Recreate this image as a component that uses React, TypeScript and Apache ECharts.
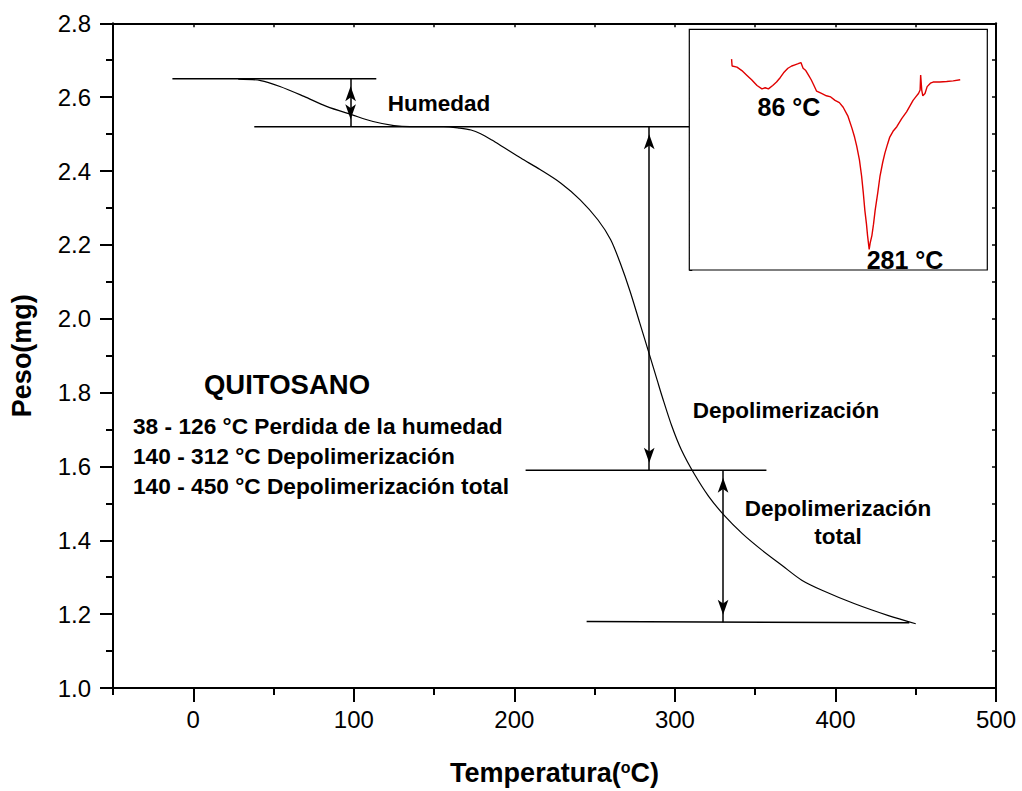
import { useEffect, useRef } from 'react';
import * as echarts from 'echarts';

// ---- Main TGA curve (Temperatura °C, Peso mg)
const tgaTemp = [28, 42, 54, 69, 83, 99, 112, 125, 135, 156, 166, 173, 179, 186, 193, 204, 216, 229, 241, 252, 260, 266, 272, 278, 284, 289, 292, 298, 304, 312, 321, 331, 342, 354, 367, 379, 392, 412, 433, 450];
const tgaWeight = [2.649, 2.645, 2.629, 2.602, 2.575, 2.552, 2.534, 2.523, 2.520, 2.520, 2.516, 2.511, 2.501, 2.484, 2.465, 2.435, 2.404, 2.367, 2.322, 2.268, 2.214, 2.150, 2.075, 1.990, 1.905, 1.833, 1.790, 1.710, 1.645, 1.580, 1.519, 1.466, 1.418, 1.374, 1.331, 1.292, 1.264, 1.228, 1.196, 1.174];

// ---- Inset DSC curve (same temperature scale, arbitrary signal)
const dscTemp = [28, 29, 38, 47, 56, 65, 75, 84, 90, 96, 104, 111, 118, 124, 132, 139, 145, 151, 156, 160, 165, 170, 175, 179, 185, 194, 203, 211, 219, 227, 234, 243, 250, 255, 259, 264, 268, 271, 274, 277, 279, 282, 284, 287, 290, 293, 298, 302, 307, 311, 316, 320, 326, 333, 342, 351, 357, 363, 368, 373, 376, 377, 379, 381, 385, 389, 395, 400, 412, 425, 437, 450];
const dscSignal = [92, 89, 88.5, 87, 85, 83, 80.5, 79, 79.5, 79, 80.5, 82, 84, 86, 88, 89, 89.5, 90, 90.5, 88, 87, 85, 83, 81, 78, 77, 76, 75.5, 74, 73, 71, 67, 62, 58, 54, 48, 41, 34, 26, 20, 15, 9, 12, 15, 20, 26, 34, 41, 47, 51, 55, 58, 60.5, 62.5, 66, 69, 71.5, 74, 75.5, 77, 78.5, 85, 78.5, 76, 77, 80, 81.5, 82, 82, 82.2, 82.5, 83];

// ---- Guide lines and arrows
const guide1X = [-13, 114];
const guide1Y = [2.65, 2.65];
const guide2X = [38, 309];
const guide2Y = [2.52, 2.52];
const guide3X = [207, 357];
const guide3Y = [1.59, 1.59];
const guide4X = [245, 446];
const guide4Y = [1.18, 1.177];
const arrowX = [98, 284, 330];
const arrowFrom = [2.65, 2.52, 1.59];
const arrowTo = [2.52, 1.59, 1.178];

// ---- Ticks
const xMajorTicks = [0, 100, 200, 300, 400, 500];
const xMinorTicks = [-50, 50, 150, 250, 350, 450];
const xTopTicks = [-50, 0, 50, 100, 150, 200, 250, 300, 350, 400, 450, 500];

const FONT = 'Liberation Sans, Arial, Helvetica, sans-serif';

const zip = (a: number[], b: number[]) => a.map((v, i) => [v, b[i]]);

export default function App() {
  const ref = useRef<HTMLDivElement>(null);

  useEffect(() => {
    if (!ref.current) return;
    const chart = echarts.init(ref.current, undefined, { renderer: 'svg' });

    const guideSeries = (x: number[], y: number[], extra: any = {}) => ({
      type: 'line',
      xAxisIndex: 0,
      yAxisIndex: 0,
      data: zip(x, y),
      showSymbol: false,
      symbol: 'none',
      silent: true,
      lineStyle: { color: '#000', width: 1.5 },
      ...extra,
    });

    const text = (t: string, x: number, y: number, size: number, align = 'center') => ({
      type: 'text',
      x,
      y,
      silent: true,
      z: 100,
      style: {
        text: t,
        fill: '#000',
        fontSize: size,
        fontWeight: 'bold',
        fontFamily: FONT,
        align,
        verticalAlign: 'middle',
      },
    });

    chart.setOption({
      animation: false,
      backgroundColor: '#fff',
      grid: [
        { left: 112.5, top: 23.3, width: 883.5, height: 666 },
        {
          left: 689.3,
          top: 29.3,
          width: 298,
          height: 240.7,
          show: true,
          backgroundColor: '#fff',
          borderColor: '#000',
          borderWidth: 1.2,
          z: 5,
        },
      ],
      xAxis: [
        {
          type: 'value',
          gridIndex: 0,
          position: 'bottom',
          min: -50,
          max: 500,
          splitLine: { show: false },
          axisLine: { onZero: false, lineStyle: { color: '#000', width: 2 } },
          axisTick: { customValues: xMajorTicks, length: 14, lineStyle: { color: '#000', width: 2 } },
          axisLabel: {
            customValues: xMajorTicks,
            fontSize: 24,
            color: '#000',
            fontFamily: FONT,
            margin: 19,
          },
          name: '{a|Temperatura(}{s|o}{a|C)}',
          nameLocation: 'middle',
          nameGap: 71,
          nameTextStyle: {
            rich: {
              a: { fontSize: 27, fontWeight: 'bold', fontFamily: FONT, color: '#000' },
              s: { fontSize: 16, fontWeight: 'bold', fontFamily: FONT, color: '#000', verticalAlign: 'top' },
            },
          },
        },
        {
          type: 'value',
          gridIndex: 0,
          position: 'bottom',
          min: -50,
          max: 500,
          splitLine: { show: false },
          axisLine: { show: false, onZero: false },
          axisTick: { customValues: xMinorTicks, length: 7, lineStyle: { color: '#000', width: 2 } },
          axisLabel: { show: false },
        },
        {
          type: 'value',
          gridIndex: 0,
          position: 'top',
          min: -50,
          max: 500,
          splitLine: { show: false },
          axisLine: { onZero: false, lineStyle: { color: '#000', width: 2 } },
          axisTick: { customValues: xTopTicks, inside: true, length: 4, lineStyle: { color: '#000', width: 1.5 } },
          axisLabel: { show: false },
        },
        {
          type: 'value',
          gridIndex: 1,
          position: 'top',
          min: -50,
          max: 500,
          interval: 50,
          splitLine: { show: false },
          axisLine: { show: false, onZero: false },
          axisTick: { inside: true, length: 3, lineStyle: { color: '#000', width: 1 } },
          axisLabel: { show: false },
        },
      ],
      yAxis: [
        {
          type: 'value',
          gridIndex: 0,
          position: 'left',
          min: 1.0,
          max: 2.8,
          interval: 0.2,
          splitLine: { show: false },
          axisLine: { onZero: false, lineStyle: { color: '#000', width: 2 } },
          axisTick: { length: 13, lineStyle: { color: '#000', width: 2 } },
          minorTick: { show: true, splitNumber: 2, length: 7, lineStyle: { color: '#000', width: 2 } },
          minorSplitLine: { show: false },
          axisLabel: {
            fontSize: 24,
            color: '#000',
            fontFamily: FONT,
            margin: 22,
            formatter: (v: number) => v.toFixed(1),
          },
          name: 'Peso(mg)',
          nameLocation: 'middle',
          nameRotate: 90,
          nameGap: 78,
          nameTextStyle: { fontSize: 27, fontWeight: 'bold', fontFamily: FONT, color: '#000' },
        },
        {
          type: 'value',
          gridIndex: 0,
          position: 'right',
          min: 1.0,
          max: 2.8,
          interval: 0.1,
          splitLine: { show: false },
          axisLine: { onZero: false, lineStyle: { color: '#000', width: 2 } },
          axisTick: { inside: true, length: 4, lineStyle: { color: '#000', width: 1.5 } },
          axisLabel: { show: false },
        },
        {
          type: 'value',
          gridIndex: 1,
          position: 'left',
          min: 0,
          max: 105,
          interval: 5,
          splitLine: { show: false },
          axisLine: { show: false, onZero: false },
          axisTick: { inside: true, length: 3, lineStyle: { color: '#000', width: 1 } },
          axisLabel: { show: false },
        },
      ],
      series: [
        {
          type: 'line',
          xAxisIndex: 0,
          yAxisIndex: 0,
          data: zip(tgaTemp, tgaWeight),
          showSymbol: false,
          symbol: 'none',
          smooth: 0.3,
          lineStyle: { color: '#000', width: 1.2 },
          z: 3,
        },
        guideSeries(guide1X, guide1Y, {
          markLine: {
            silent: true,
            symbol: ['arrow', 'arrow'],
            symbolSize: [8, 15],
            symbolOffset: [[0, 7.5], [0, 7.5]],
            label: { show: false },
            lineStyle: { color: '#000', width: 1.5, type: 'solid' },
            itemStyle: { color: '#000' },
            data: arrowX.map((x, i) => [{ coord: [x, arrowFrom[i]] }, { coord: [x, arrowTo[i]] }]),
          },
        }),
        guideSeries(guide2X, guide2Y),
        guideSeries(guide3X, guide3Y),
        guideSeries(guide4X, guide4Y),
        {
          type: 'line',
          xAxisIndex: 3,
          yAxisIndex: 2,
          data: zip(dscTemp, dscSignal),
          showSymbol: false,
          symbol: 'none',
          lineStyle: { color: '#e00000', width: 1.4 },
          z: 10,
        },
      ],
      graphic: [
        text('QUITOSANO', 287, 384, 27.5),
        text('38 - 126 °C Perdida de la humedad', 133, 426, 22.7, 'left'),
        text('140 - 312 °C Depolimerización', 133, 456, 22.7, 'left'),
        text('140 - 450 °C Depolimerización total', 133, 486, 22.7, 'left'),
        text('Humedad', 439, 103, 22.5),
        text('Depolimerización', 786, 410, 22.5),
        text('Depolimerización', 838, 508, 22.5),
        text('total', 838, 536, 22.5),
        text('86 °C', 789, 107, 25),
        text('281 °C', 905, 260, 25),
      ],
    });

    return () => chart.dispose();
  }, []);

  return (
    <div
      ref={ref}
      style={{ position: 'fixed', left: 0, top: 0, width: 1022, height: 791, background: '#fff' }}
    />
  );
}
